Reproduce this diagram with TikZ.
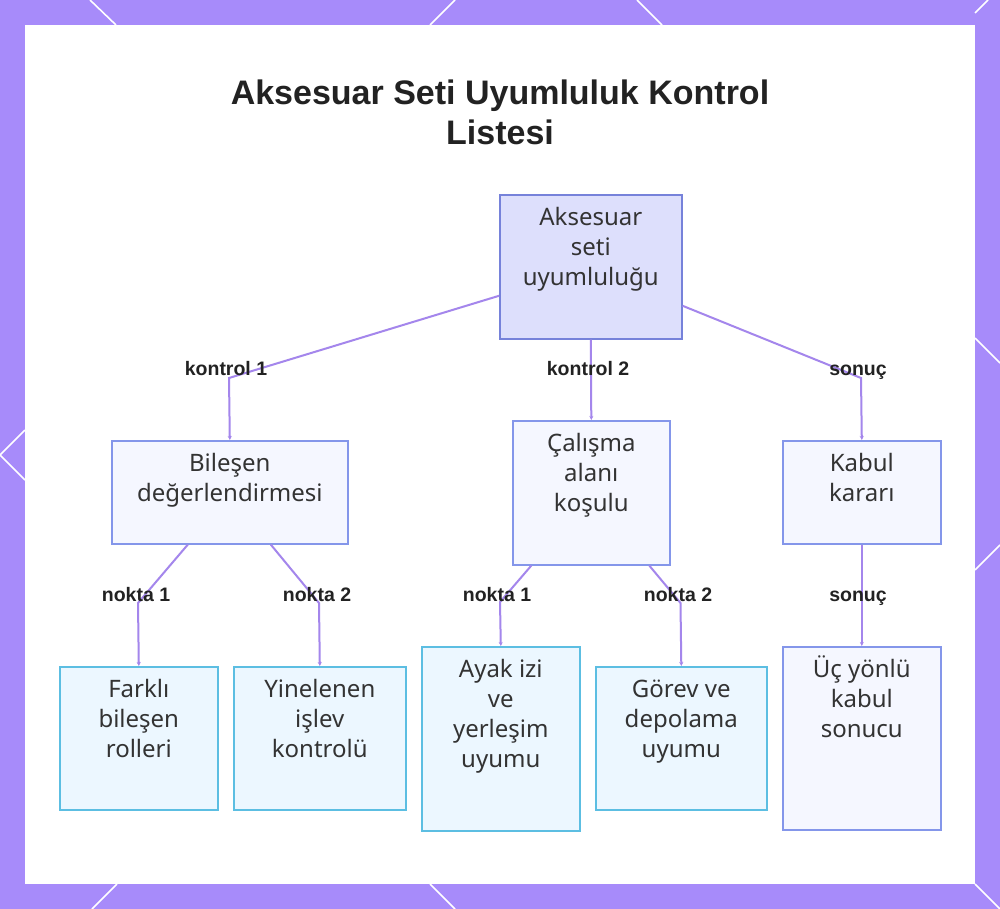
\documentclass[tikz,border=0pt]{standalone}
\usepackage{fontspec}
\setmainfont{Noto Sans}
\newfontfamily\boldsans{Liberation Sans}
\usetikzlibrary{arrows.meta,calc}
\definecolor{bgpurple}{RGB}{167,139,250}
\definecolor{conn}{RGB}{164,134,236}
\definecolor{rootfill}{RGB}{221,223,252}
\definecolor{rootdraw}{RGB}{118,130,218}
\definecolor{midfill}{RGB}{245,247,255}
\definecolor{middraw}{RGB}{132,150,234}
\definecolor{leaffill}{RGB}{236,247,255}
\definecolor{leafdraw}{RGB}{92,190,226}
\definecolor{txt}{RGB}{51,51,51}
\definecolor{ttl}{RGB}{34,34,34}
\newcommand\boxtxt[3]{\begin{minipage}[c][#2][t]{#1}\centering\fontsize{24}{30}\selectfont\color{txt}\rule{0pt}{31pt}#3\end{minipage}}
\tikzset{
  rootbox/.style={draw=rootdraw,fill=rootfill,line width=1.6pt,inner sep=0pt},
  midbox/.style={draw=middraw,fill=midfill,line width=1.6pt,inner sep=0pt},
  leafbox/.style={draw=leafdraw,fill=leaffill,line width=1.6pt,inner sep=0pt},
  edge/.style={draw=conn,line width=2pt,-{Stealth[length=4pt,width=4pt]}},
  elabel/.style={anchor=base,font=\boldsans\bfseries\fontsize{19.5}{22}\selectfont,text=ttl,inner sep=0pt},
  ttlstyle/.style={anchor=base,font=\boldsans\bfseries\fontsize{34}{40}\selectfont,text=ttl,inner sep=0pt},
  frameline/.style={draw=white,line width=1.6pt}
}
\begin{document}
\begin{tikzpicture}[x=1pt,y=-1pt]
\useasboundingbox (0,0) rectangle (1000,909);
\fill[bgpurple] (0,0) rectangle (1000,909);
% white lines on the frame
\draw[frameline] (90,0) -- (116,25);
\draw[frameline] (455,0) -- (430,25);
\draw[frameline] (637,0) -- (662,25);
\draw[frameline] (988,0) -- (975,13);
\draw[frameline] (25,430) -- (0,455) -- (25,480);
\draw[frameline] (975,338) -- (1000,363);
\draw[frameline] (975,570) -- (1000,545);
\draw[frameline] (975,884) -- (1000,909);
\draw[frameline] (117,884) -- (92,909);
\draw[frameline] (430,884) -- (455,909);
\fill[white] (25,25) rectangle (975,884);
% title
\node[ttlstyle] (title1) at (500,105) {Aksesuar Seti Uyumluluk Kontrol};
\node[ttlstyle] (title2) at (500,145) {Listesi};
% nodes
\node[rootbox,anchor=north west] (root) at (499,194) {\boxtxt{182pt}{144pt}{Aksesuar\\seti\\uyumluluğu}};
\node[midbox,anchor=north west] (bil) at (111,440) {\boxtxt{236pt}{103pt}{Bileşen\\değerlendirmesi}};
\node[midbox,anchor=north west] (cal) at (512,420) {\boxtxt{157pt}{144pt}{Çalışma\\alanı\\koşulu}};
\node[midbox,anchor=north west] (kab) at (782,440) {\boxtxt{158pt}{103pt}{Kabul\\kararı}};
\node[leafbox,anchor=north west] (far) at (59,666) {\boxtxt{158pt}{143pt}{Farklı\\bileşen\\rolleri}};
\node[leafbox,anchor=north west] (yin) at (233,666) {\boxtxt{172pt}{143pt}{Yinelenen\\işlev\\kontrolü}};
\node[leafbox,anchor=north west] (ayak) at (421,646) {\boxtxt{158pt}{184pt}{Ayak izi\\ve\\yerleşim\\uyumu}};
\node[leafbox,anchor=north west] (gor) at (595,666) {\boxtxt{171pt}{143pt}{Görev ve\\depolama\\uyumu}};
\node[midbox,anchor=north west] (uc) at (782,646) {\boxtxt{158pt}{183pt}{Üç yönlü\\kabul\\sonucu}};
% bends
\coordinate (b1) at (229,378);
\coordinate (b3) at (861,378);
\coordinate (b4) at (138,603);
\coordinate (b5) at (319,603);
\coordinate (b6) at (500,602);
\coordinate (b7) at (680.5,603);
% edges
\draw[edge] ($(root.west)+(0,29)$) -- (b1) -- (bil.north);
\draw[edge] (root.south) -- (cal.north);
\draw[edge] ($(root.east)+(0,39)$) -- (b3) -- (kab.north);
\draw[edge] ($(bil.south)+(-42,0)$) -- (b4) -- (far.north);
\draw[edge] ($(bil.south)+(41,0)$) -- (b5) -- (yin.north);
\draw[edge] ($(cal.south)+(-60,0)$) -- (b6) -- (ayak.north);
\draw[edge] ($(cal.south)+(58,0)$) -- (b7) -- (gor.north);
\draw[edge] (kab.south) -- (uc.north);
% labels
\node[elabel] (l1) at (226,375) {kontrol 1};
\node[elabel] (l2) at (588,375) {kontrol 2};
\node[elabel] (l3) at (858,375) {sonuç};
\node[elabel] (l4) at (136,601) {nokta 1};
\node[elabel] (l5) at (317,601) {nokta 2};
\node[elabel] (l6) at (497,601) {nokta 1};
\node[elabel] (l7) at (678,601) {nokta 2};
\node[elabel] (l8) at (858,601) {sonuç};
\end{tikzpicture}
\end{document}
